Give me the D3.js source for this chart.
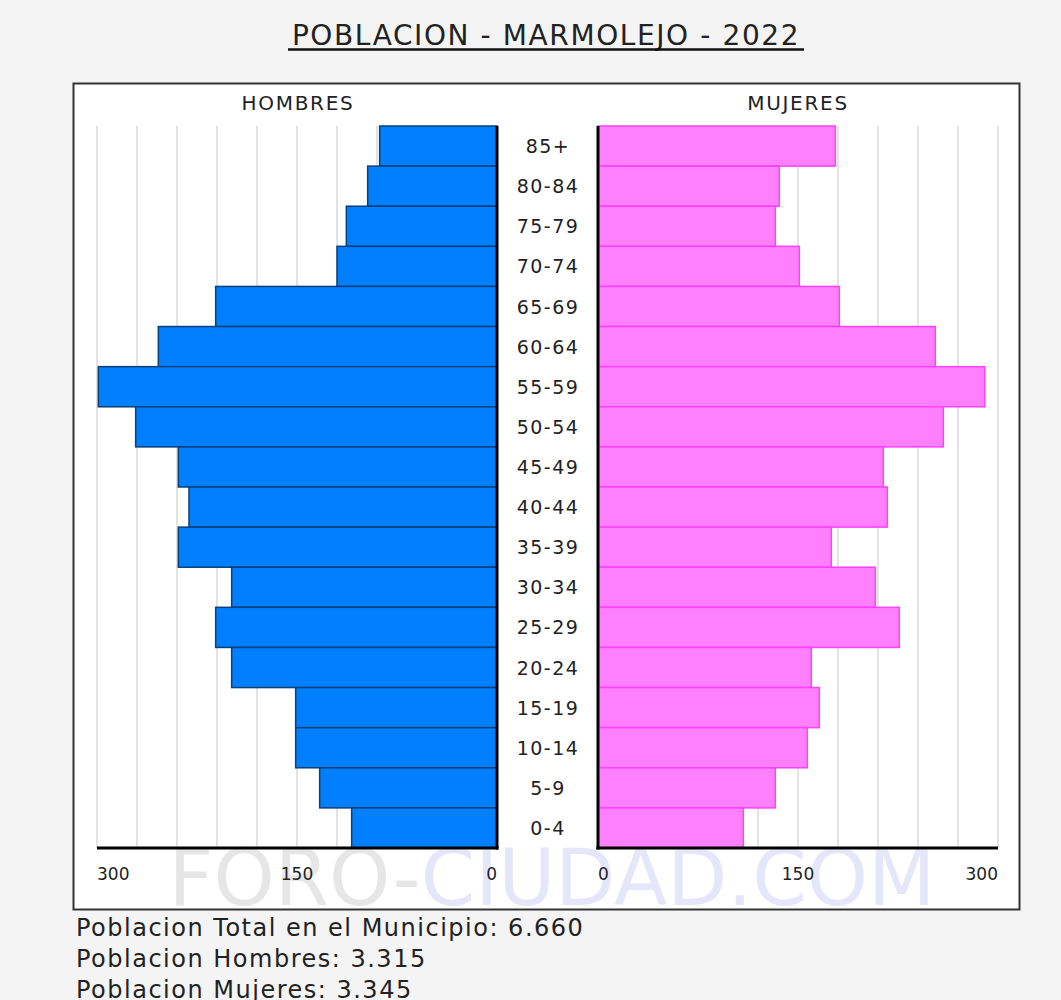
<!DOCTYPE html>
<html><head><meta charset="utf-8">
<script src="https://cdn.jsdelivr.net/npm/d3@7"></script>
<style>
html,body{margin:0;padding:0;background:#f4f4f4;}
svg{display:block;}
text{font-family:"DejaVu Sans",Verdana,sans-serif;fill:#222;}
</style></head>
<body>
<svg id="chart" width="1061" height="1000"></svg>
<script>
const ageGroups = ["85+","80-84","75-79","70-74","65-69","60-64","55-59","50-54","45-49","40-44","35-39","30-34","25-29","20-24","15-19","10-14","5-9","0-4"];
const hombres = [88,97,113,120,211,254,299,271,239,231,239,199,211,199,151,151,133,109];
const mujeres = [178,136,133,151,181,253,290,259,214,217,175,208,226,160,166,157,133,109];
const tickValues = [0,150,300];
const gridValues = [0,30,60,90,120,150,180,210,240,270,300];
const title = "POBLACION - MARMOLEJO - 2022";
const summary = ["Poblacion Total en el Municipio: 6.660","Poblacion Hombres: 3.315","Poblacion Mujeres: 3.345"];

const svg = d3.select("#chart");
const yTop = 126, yBottom = 848;
const xL = d3.scaleLinear().domain([0,300]).range([497,97]);
const xR = d3.scaleLinear().domain([0,300]).range([598,998]);
const y = d3.scaleBand().domain(ageGroups).range([yTop,yBottom]).padding(0);

// title
svg.append("text").attr("x",546).attr("y",45).attr("text-anchor","middle")
  .attr("font-size",28).attr("letter-spacing",1.6).text(title);
svg.append("line").attr("x1",288).attr("x2",804).attr("y1",49.5).attr("y2",49.5)
  .attr("stroke","#111").attr("stroke-width",2.5);

// box
svg.append("rect").attr("x",73.5).attr("y",83.5).attr("width",946).attr("height",826)
  .attr("fill","#fff").attr("stroke","#333").attr("stroke-width",2);

// watermark
const wm = svg.append("text").attr("x",552).attr("y",905).attr("text-anchor","middle")
  .attr("font-size",78);
wm.append("tspan").style("fill","#e6e6e6").text("FORO-");
wm.append("tspan").style("fill","#e6e6fb").text("CIUDAD.COM");

// gridlines
svg.append("g").selectAll("line").data(gridValues.filter(d=>d>0)).join("line")
  .attr("x1",d=>xL(d)).attr("x2",d=>xL(d)).attr("y1",yTop).attr("y2",yBottom)
  .attr("stroke","#e3e3e3").attr("stroke-width",2);
svg.append("g").selectAll("line").data(gridValues.filter(d=>d>0)).join("line")
  .attr("x1",d=>xR(d)).attr("x2",d=>xR(d)).attr("y1",yTop).attr("y2",yBottom)
  .attr("stroke","#e3e3e3").attr("stroke-width",2);

// bars
svg.append("g").selectAll("rect").data(ageGroups).join("rect")
  .attr("x",(d,i)=>xL(hombres[i])).attr("y",d=>y(d))
  .attr("width",(d,i)=>xL(0)-xL(hombres[i])).attr("height",y.bandwidth())
  .attr("fill","#0080ff").attr("stroke","#0b3f7a").attr("stroke-width",1.5);
svg.append("g").selectAll("rect").data(ageGroups).join("rect")
  .attr("x",xR(0)).attr("y",d=>y(d))
  .attr("width",(d,i)=>xR(mujeres[i])-xR(0)).attr("height",y.bandwidth())
  .attr("fill","#ff80ff").attr("stroke","#ff40ff").attr("stroke-width",1.5);

// axes lines
svg.append("line").attr("x1",xL(0)).attr("x2",xL(0)).attr("y1",yTop).attr("y2",yBottom+1.5).attr("stroke","#000").attr("stroke-width",3);
svg.append("line").attr("x1",xR(0)).attr("x2",xR(0)).attr("y1",yTop).attr("y2",yBottom+1.5).attr("stroke","#000").attr("stroke-width",3);
svg.append("line").attr("x1",xL(300)).attr("x2",xL(0)+1.5).attr("y1",yBottom).attr("y2",yBottom).attr("stroke","#000").attr("stroke-width",3);
svg.append("line").attr("x1",xR(0)-1.5).attr("x2",xR(300)).attr("y1",yBottom).attr("y2",yBottom).attr("stroke","#000").attr("stroke-width",3);

// tick labels
const anchorL = d => d===300?"start":(d===0?"end":"middle");
const anchorR = d => d===0?"start":(d===300?"end":"middle");
svg.append("g").selectAll("text").data(tickValues).join("text")
  .attr("x",d=>xL(d)).attr("y",880).attr("text-anchor",anchorL).attr("font-size",17).text(d=>d);
svg.append("g").selectAll("text").data(tickValues).join("text")
  .attr("x",d=>xR(d)).attr("y",880).attr("text-anchor",anchorR).attr("font-size",17).text(d=>d);

// side labels
svg.append("text").attr("x",298).attr("y",110).attr("text-anchor","middle").attr("font-size",20).attr("letter-spacing",1.7).text("HOMBRES");
svg.append("text").attr("x",798).attr("y",110).attr("text-anchor","middle").attr("font-size",20).attr("letter-spacing",1.7).text("MUJERES");

// age labels
svg.append("g").selectAll("text").data(ageGroups).join("text")
  .attr("x",548).attr("y",d=>y(d)+y.bandwidth()/2+7).attr("text-anchor","middle")
  .attr("font-size",19).attr("letter-spacing",1.5).text(d=>d);

// summary
svg.append("g").selectAll("text").data(summary).join("text")
  .attr("x",76).attr("y",(d,i)=>936+i*31).attr("font-size",24).attr("letter-spacing",1.5).text(d=>d);
</script>
</body></html>
